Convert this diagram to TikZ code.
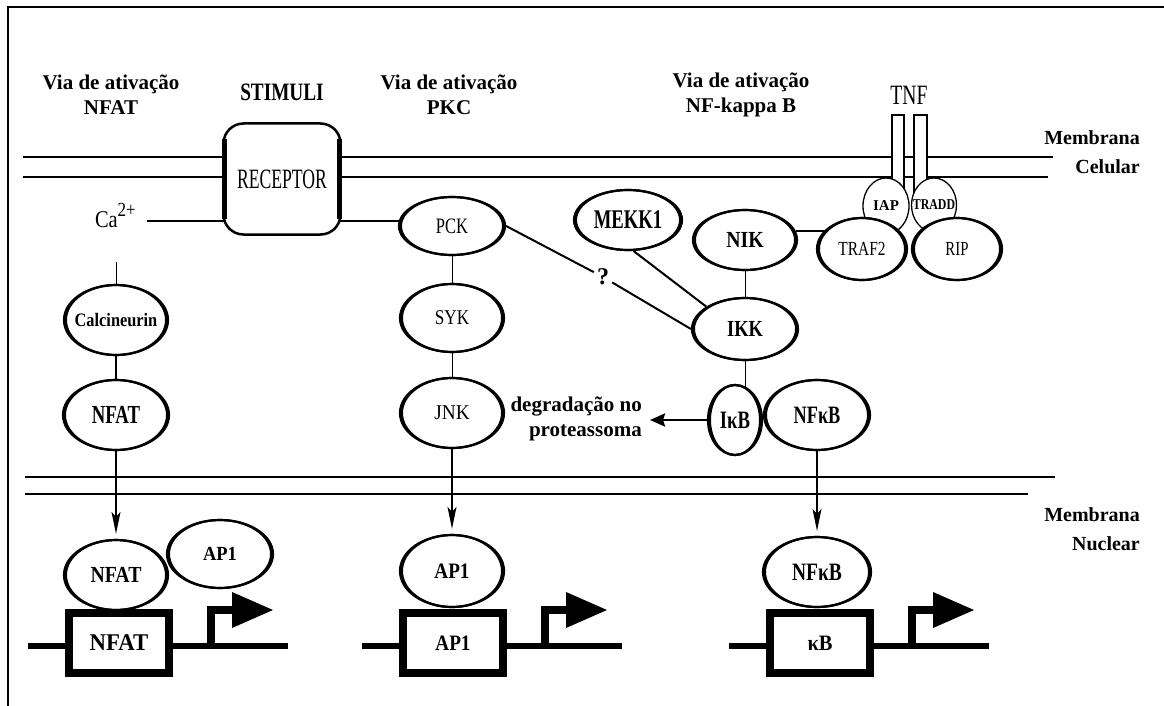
\documentclass[tikz,border=0pt]{standalone}
\usepackage{fontspec}
\setmainfont{Liberation Serif}
\usepackage{graphicx}
\usetikzlibrary{shapes.geometric,arrows.meta,backgrounds,calc}
\newcommand\lab[3]{\makebox[0pt]{\fontsize{#1}{#1}\selectfont\scalebox{#2}[1]{#3}}}
\newcommand\genesym[3]{%
  \begin{scope}[shift={(#1,646)}]
    \draw[gline] (-91,0) -- (169,0);
    \node[gbox] (#2) at (0,-3) {#3};
    \draw[prom] (92,0) -- (92,-36) -- (116,-36);
    \fill (113,-54) -- (154,-36) -- (113,-18) -- cycle;
  \end{scope}}
\begin{document}
\begin{tikzpicture}[x=1pt,y=-1pt,
  el/.style={ellipse,draw,fill=white,line width=2.2pt,inner sep=0pt},
  thinel/.style={ellipse,draw,fill=white,line width=1.3pt,inner sep=0pt},
  nucel/.style={ellipse,draw,fill=white,line width=2.2pt,inner sep=0pt},
  hdr/.style={font=\fontsize{21}{25}\selectfont\bfseries,align=center,inner sep=0pt},
  sidelab/.style={font=\fontsize{20}{29}\selectfont\bfseries,align=right,anchor=east,inner sep=0pt},
  mem/.style={line width=2pt},
  gbox/.style={rectangle,draw,fill=white,line width=8pt,minimum width=100pt,minimum height=60pt,inner sep=0pt},
  gline/.style={line width=6.5pt},
  prom/.style={line width=7.5pt,line join=miter},
  thinc/.style={line width=1pt},
  midc/.style={line width=2pt},
  nucarr/.style={line width=1.5pt,-{Stealth[length=22pt,width=9pt,inset=5pt]},shorten >=5pt},
  degarr/.style={line width=2.5pt,-{Stealth[length=15pt,width=13pt,inset=2pt]}},
  tnfbar/.style={draw,fill=white,line width=1.5pt}
]
\useasboundingbox (0,0) rectangle (1164,706);
% frame
\draw[line width=2.8pt] (8,706) -- (8,7) -- (1164,7);

% headers
\node[hdr] (h1) at (111,95) {Via de ativação\\NFAT};
\node[hdr] (h2) at (449,95) {Via de ativação\\PKC};
\node[hdr] (h3) at (741,95) {Via de ativação\\NF-kappa B};
\node[inner sep=0pt] (stim) at (282,92) {\lab{25}{0.77}{\bfseries STIMULI}};
\node[inner sep=0pt] (tnf) at (909,95) {\lab{28}{0.7}{TNF}};
\node[sidelab] (mcel) at (1140,152) {Membrana\\Celular};
\node[sidelab] (mnuc) at (1140,529) {Membrana\\Nuclear};

% membranes
\draw[mem] (23,157) -- (1053,157);
\draw[mem] (23,177) -- (1048,177);
\draw[mem] (25,477) -- (1055,477);
\draw[mem] (25,494) -- (1028,494);

% TNF receptor bars
\draw[tnfbar] (892,115) rectangle (904,200);
\draw[tnfbar] (914,115) rectangle (927,200);

% receptor
\node[draw,fill=white,rounded corners=20pt,line width=2.5pt,minimum width=117pt,minimum height=111pt,inner sep=0pt] (rec) at (282,179) {\lab{28}{0.63}{RECEPTOR}};
\draw[line width=5pt] ([xshift=2pt,yshift=-17pt]rec.north west) -- ([xshift=2pt,yshift=17pt]rec.south west);
\draw[line width=5pt] ([xshift=-2pt,yshift=-17pt]rec.north east) -- ([xshift=-2pt,yshift=17pt]rec.south east);

% Ca
\node[anchor=base east,inner sep=0pt] (ca) at (136,227) {\fontsize{24}{24}\selectfont\scalebox{0.85}[1]{Ca\raisebox{0.42em}{\fontsize{20}{20}\selectfont 2+}}};
\coordinate (cl) at (147,221);
\coordinate (ctop) at (116,262);

% NFAT column
\node[el,minimum width=104pt,minimum height=70pt] (calc) at (116,320) {\lab{19}{0.86}{\bfseries Calcineurin}};
\node[el,minimum width=106pt,minimum height=70pt] (nfat1) at (116,415) {\lab{26}{0.72}{\bfseries NFAT}};

% PKC column
\node[el,minimum width=106pt,minimum height=58pt] (pck) at (452,226) {\lab{22}{0.75}{PCK}};
\node[el,minimum width=104pt,minimum height=68pt] (syk) at (452,318) {\lab{21}{0.82}{SYK}};
\node[el,minimum width=104pt,minimum height=70pt] (jnk) at (452,413) {\lab{21}{0.92}{JNK}};

% NF-kB column
\node[el,minimum width=108pt,minimum height=60pt] (mekk) at (628,220) {\lab{27}{0.69}{\bfseries MEKK1}};
\node[el,minimum width=104pt,minimum height=60pt] (nik) at (745,240) {\lab{23}{0.86}{\bfseries NIK}};
\node[el,minimum width=106pt,minimum height=62pt] (ikk) at (745,329) {\lab{23}{0.8}{\bfseries IKK}};
\node[el,minimum width=54pt,minimum height=70pt] (ikb) at (735,420) {\lab{25}{0.75}{\bfseries IκB}};
\node[el,minimum width=106pt,minimum height=70pt] (nfkb1) at (817,415) {\lab{25}{0.73}{\bfseries NFκB}};
\node[font=\fontsize{24}{24}\selectfont\bfseries,inner sep=3pt] (q) at (603,277) {?};
\node[hdr,anchor=east,align=right] (deg) at (642,419) {degradação no\\proteassoma};
\coordinate (dtip) at (650,420);

% TNF complex
\node[thinel,minimum width=46pt,minimum height=56pt] (iap) at (886,206) {\lab{15}{1}{\bfseries IAP}};
\node[thinel,minimum width=45pt,minimum height=54pt] (tradd) at (934,205) {\lab{15}{0.79}{\bfseries TRADD}};
\node[el,minimum width=90pt,minimum height=62pt] (traf2) at (862,249) {\lab{20}{0.77}{TRAF2}};
\node[el,minimum width=90pt,minimum height=62pt] (rip) at (957,249) {\lab{20}{0.74}{RIP}};

% nucleus
\node[nucel,minimum width=106pt,minimum height=68pt] (ap1a) at (220,554) {\lab{20}{0.92}{\bfseries AP1}};
\node[nucel,minimum width=104pt,minimum height=70pt] (nfat2) at (116,575) {\lab{23}{0.86}{\bfseries NFAT}};
\node[nucel,minimum width=104pt,minimum height=72pt] (ap1b) at (452,571) {\lab{22}{0.87}{\bfseries AP1}};
\node[nucel,minimum width=108pt,minimum height=70pt] (nfkb2) at (817,572) {\lab{25}{0.78}{\bfseries NFκB}};

% heavier sides of the ellipses
\foreach \nd in {calc,nfat1,pck,syk,jnk,mekk,nik,ikk,ikb,nfkb1,traf2,rip,ap1a,nfat2,ap1b,nfkb2}
  \draw[line width=2.2pt] let \p1=($(\nd.east)-(\nd.center)$), \p2=($(\nd.north)-(\nd.center)$) in
    (\nd.center) ellipse [x radius=\x1-3pt, y radius=\y2-1.1pt];

% genes
\genesym{119}{g1}{\lab{24}{0.95}{\bfseries NFAT}}
\genesym{453}{g2}{\lab{22}{0.87}{\bfseries AP1}}
\genesym{820}{g3}{\lab{22}{0.93}{\bfseries κB}}

% connectors behind nodes
\begin{pgfonlayer}{background}
  \draw[midc] (cl) -- (cl -| pck);
  \draw[thinc] (ctop) -- (calc);
  \draw[midc] (calc) -- (nfat1);
  \draw[thinc] (pck) -- (syk);
  \draw[thinc] (syk) -- (jnk);
  \draw[thinc] (nik) -- (ikk);
  \draw[thinc] (ikk) -- (ikk |- ikb);
  \draw[midc] (nik.10) -- (nik.10 -| traf2);
\end{pgfonlayer}
\draw[midc] (pck.east) -- (q);
\draw[midc] (q) -- (ikk.west);
\draw[midc] (mekk.-80) -- (ikk.150);
\draw[degarr] (ikb.west) -- (dtip);

% arrows into the nucleus
\draw[nucarr] (nfat1) -- (nfat2);
\draw[nucarr] (jnk) -- (ap1b);
\draw[nucarr] (nfkb1) -- (nfkb2);
\end{tikzpicture}
\end{document}
